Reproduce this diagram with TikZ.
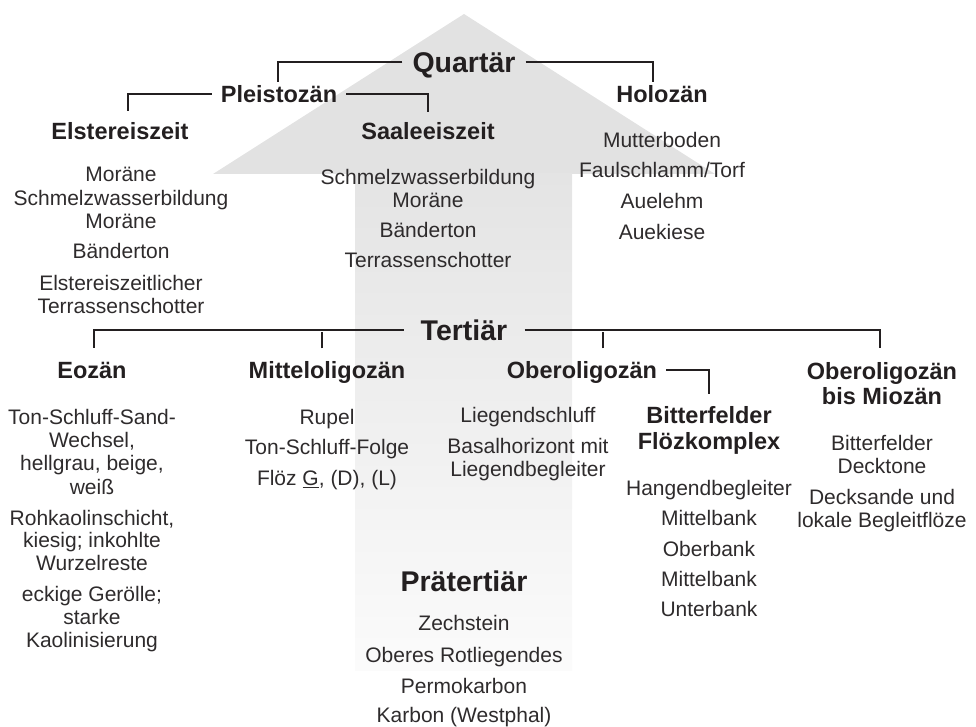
\documentclass[tikz,border=0pt]{standalone}
\usepackage{fontspec}
\setmainfont{Liberation Sans}
\definecolor{ink}{HTML}{231F20}
\definecolor{bodyink}{HTML}{2E2B2C}
\definecolor{headgray}{HTML}{E2E2E2}
\definecolor{shafttop}{HTML}{E4E4E4}
\definecolor{shaftbot}{HTML}{FBFBFB}
\begin{document}
\begin{tikzpicture}[x=1pt,y=-1pt,
  body/.style={font=\fontsize{21}{23}\selectfont, text=bodyink, inner sep=0pt, text height=15pt, text depth=0pt},
  head/.style={font=\bfseries\fontsize{23.5}{25}\selectfont, text=ink, inner xsep=9pt, inner ysep=2pt, text height=17pt, text depth=0pt},
  big/.style={font=\bfseries\fontsize{28.5}{30}\selectfont, text=ink, inner xsep=10pt, inner ysep=2pt, text height=20.5pt, text depth=0pt},
  conn/.style={draw=ink, line width=1.8pt}]
\useasboundingbox (0,0) rectangle (976,727);
% big arrow
\fill[headgray] (464,14) -- (715,174) -- (213,174) -- cycle;
\shade[top color=shafttop, bottom color=shaftbot] (355,174) rectangle (572,670);

% Quartaer
\node[big] (qu) at (464,62) {Quartär};
\node[head] (pl) at (279,94) {Pleistozän};
\node[head] (ho) at (662,94) {Holozän};
\node[head] (el) at (120,131) {Elstereiszeit};
\node[head] (sa) at (428,131) {Saaleeiszeit};

\node[body] (e1) at (121,174) {Moräne};
\node[body] (e2) at (121,198) {Schmelzwasserbildung};
\node[body] (e3) at (121,221) {Moräne};
\node[body] (e4) at (121,251) {Bänderton};
\node[body] (e5) at (121,283) {Elstereiszeitlicher};
\node[body] (e6) at (121,306) {Terrassenschotter};

\node[body] (s1) at (428,177) {Schmelzwasserbildung};
\node[body] (s2) at (428,200) {Moräne};
\node[body] (s3) at (428,230) {Bänderton};
\node[body] (s4) at (428,260) {Terrassenschotter};

\node[body] (h1) at (662,140) {Mutterboden};
\node[body] (h2) at (662,170) {Faulschlamm/Torf};
\node[body] (h3) at (662,201) {Auelehm};
\node[body] (h4) at (662,232) {Auekiese};

\draw[conn] (qu.west) -| ([xshift=-1pt,yshift=1pt]pl.north);
\draw[conn] (qu.east) -| ([xshift=-9pt,yshift=1pt]ho.north);
\draw[conn] (pl.west) -| ([xshift=8pt,yshift=9pt]el.north);
\draw[conn] (pl.east) -| ([yshift=8pt]sa.north);

% Tertiaer
\node[big, inner xsep=17pt] (te) at (464,330) {Tertiär};
\node[head] (eo) at (92,370) {Eozän};
\node[head] (mo) at (327,370) {Mitteloligozän};
\node[head] (ob) at (582,370) {Oberoligozän};
\node[head] (bf) at (709,415) {Bitterfelder};
\node[head] (bf2) at (709,441) {Flözkomplex};
\node[head] (om) at (882,371) {Oberoligozän};
\node[head] (om2) at (882,396) {bis Miozän};

\draw[conn] (te.west) -| ([xshift=2pt,yshift=11pt]eo.north);
\draw[conn] ([xshift=-5pt,yshift=11pt]mo.north) -- ++(0,-16);
\draw[conn] (te.east) -| ([xshift=-2pt,yshift=12pt]om.north);
\draw[conn] ([xshift=21pt,yshift=11pt]ob.north) -- ++(0,-16);
\draw[conn] (ob.east) -| ([yshift=10pt]bf.north);

\node[body] (z1) at (92,417) {Ton-Schluff-Sand-};
\node[body] (z2) at (92,440) {Wechsel,};
\node[body] (z3) at (92,463) {hellgrau, beige,};
\node[body] (z4) at (92,487) {weiß};
\node[body] (z5) at (92,518) {Rohkaolinschicht,};
\node[body] (z6) at (92,540) {kiesig; inkohlte};
\node[body] (z7) at (92,563) {Wurzelreste};
\node[body] (z8) at (92,594) {eckige Gerölle;};
\node[body] (z9) at (92,617) {starke};
\node[body] (z10) at (92,640) {Kaolinisierung};

\node[body] (m1) at (327,417) {Rupel};
\node[body] (m2) at (327,447) {Ton-Schluff-Folge};
\node[body] (m3) at (327,478) {Flöz \underline{G}, (D), (L)};

\node[body] (o1) at (528,415) {Liegendschluff};
\node[body] (o2) at (528,446) {Basalhorizont mit};
\node[body] (o3) at (528,469) {Liegendbegleiter};

\node[body] (b1) at (709,488) {Hangendbegleiter};
\node[body] (b2) at (709,518) {Mittelbank};
\node[body] (b3) at (709,549) {Oberbank};
\node[body] (b4) at (709,579) {Mittelbank};
\node[body] (b5) at (709,609) {Unterbank};

\node[body] (r1) at (882,443) {Bitterfelder};
\node[body] (r2) at (882,466) {Decktone};
\node[body] (r3) at (882,497) {Decksande und};
\node[body] (r4) at (882,520) {lokale Begleitflöze};

% Praetertiaer
\node[big] (pt) at (464,581) {Prätertiär};
\node[body] (p1) at (464,623) {Zechstein};
\node[body] (p2) at (464,655) {Oberes Rotliegendes};
\node[body] (p3) at (464,686) {Permokarbon};
\node[body] (p4) at (464,715) {Karbon (Westphal)};
\end{tikzpicture}
\end{document}
